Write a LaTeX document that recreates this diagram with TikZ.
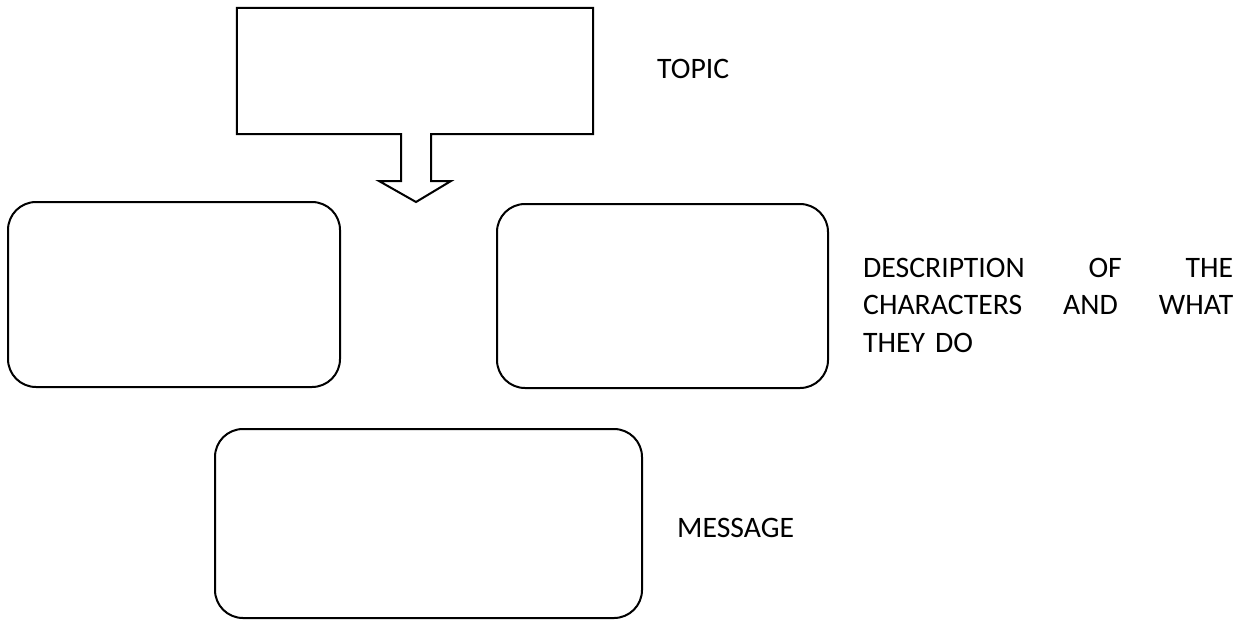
\documentclass[tikz,border=0pt]{standalone}
\usepackage{fontspec}
\setmainfont{Carlito}
\begin{document}
\begin{tikzpicture}[x=1pt,y=-1pt,
  box/.style={draw=black,line width=2pt,rounded corners=28pt,inner sep=0pt},
  lbl/.style={inner sep=0pt,font=\fontsize{29.7}{37.5}\selectfont},
  outline/.style={draw=black,line width=2pt,line join=miter}]
\useasboundingbox (0,0) rectangle (1246,619);
% top box with arrow (single outline)
\node[inner sep=0pt,minimum width=356pt,minimum height=126pt] (topbox) at (415,71) {};
\coordinate (sl) at (401,134);
\coordinate (sr) at (431,134);
\coordinate (tip) at (416,202);
\draw[outline] (topbox.north west) -- (topbox.north east) -- (topbox.south east)
  -- (sr) -- (431,181) -- (451,181) -- (tip) -- (379,181) -- (401,181) -- (sl)
  -- (topbox.south west) -- cycle;
% rounded boxes
\node[box,minimum width=332pt,minimum height=185pt] (left) at (174,294.5) {};
\node[box,minimum width=331pt,minimum height=184pt] (right) at (662.5,296) {};
\node[box,minimum width=427pt,minimum height=189pt] (bottom) at (428.5,523.5) {};
% labels
\node[lbl,anchor=base west] (topic) at (657,78) {TOPIC};
\node[lbl,anchor=base west] (message) at (677,537) {MESSAGE};
\node[lbl,anchor=base west,text width=370pt,align=left] (desc) at (863,277)
  {\makebox[370pt][l]{DESCRIPTION\hfill OF\hfill THE}\\
   \makebox[370pt][l]{CHARACTERS\hfill AND\hfill WHAT}\\
   THEY DO};
\end{tikzpicture}
\end{document}
